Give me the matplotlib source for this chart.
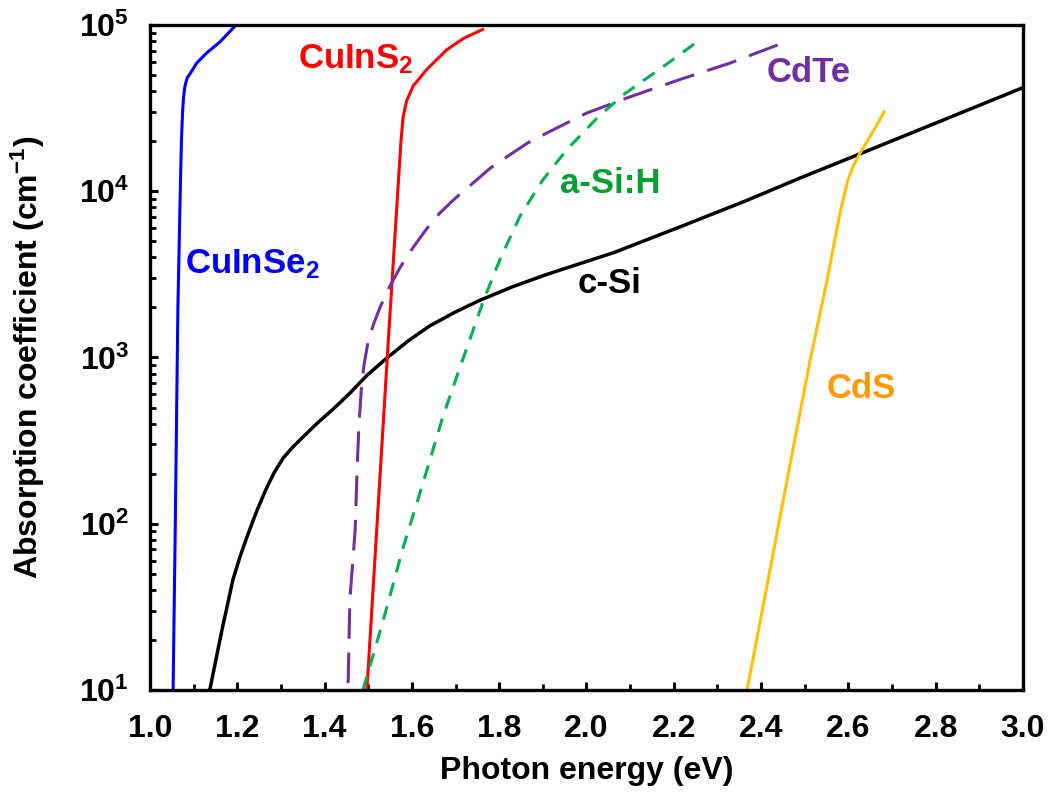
import matplotlib
matplotlib.use("Agg")
import matplotlib.pyplot as plt
from matplotlib.ticker import FixedLocator, LogLocator, NullFormatter, MultipleLocator

plt.rcParams["font.family"] = ["Liberation Sans", "DejaVu Sans"]
plt.rcParams["font.weight"] = "bold"
plt.rcParams["mathtext.fontset"] = "custom"
plt.rcParams["mathtext.rm"] = "Liberation Sans:bold"
plt.rcParams["mathtext.bf"] = "Liberation Sans:bold"
plt.rcParams["mathtext.it"] = "Liberation Sans:bold"

# photon energy (eV) / absorption coefficient (cm^-1), read per material
cuinse2_e = [1.053, 1.058, 1.064, 1.069, 1.072, 1.075, 1.077, 1.080, 1.085,
             1.092, 1.107, 1.130, 1.160, 1.197]
cuinse2_a = [1e1, 1e2, 2.0e3, 8.9e3, 2.0e4, 3.1e4, 3.7e4, 4.27e4, 4.8e4,
             5.1e4, 5.9e4, 6.8e4, 7.9e4, 1e5]

cuins2_e = [1.497, 1.546, 1.575, 1.580, 1.588, 1.603, 1.634, 1.680, 1.718,
            1.762]
cuins2_a = [1e1, 1.26e3, 2.0e4, 2.8e4, 3.5e4, 4.3e4, 5.4e4, 7.1e4, 8.3e4,
            9.4e4]

cdte_e = [1.454, 1.458, 1.470, 1.475, 1.479, 1.484, 1.490, 1.500, 1.512,
          1.527, 1.550, 1.575, 1.603, 1.633, 1.664, 1.700, 1.740, 1.780,
          1.825, 1.865, 1.909, 2.000, 2.100, 2.214, 2.329, 2.450]
cdte_a = [1.1e1, 3.5e1, 9.1e1, 2.3e2, 4.0e2, 6.3e2, 8.9e2, 1.26e3, 1.58e3,
          2.0e3, 2.7e3, 3.55e3, 4.6e3, 5.9e3, 7.4e3, 9.1e3, 1.12e4, 1.38e4,
          1.66e4, 1.95e4, 2.24e4, 2.95e4, 3.7e4, 4.7e4, 5.9e4, 7.8e4]

asih_e = [1.488, 1.534, 1.580, 1.625, 1.671, 1.710, 1.740, 1.764, 1.802,
          1.848, 1.900, 1.955, 2.024, 2.084, 2.175, 2.253]
asih_a = [1e1, 2.6e1, 7.2e1, 1.74e2, 4.4e2, 8.7e2, 1.45e3, 2.2e3, 3.9e3,
          7.1e3, 1.17e4, 1.78e4, 2.75e4, 3.8e4, 5.6e4, 7.9e4]

csi_e = [1.137, 1.165, 1.190, 1.206, 1.222, 1.245, 1.268, 1.285, 1.305,
         1.325, 1.344, 1.382, 1.420, 1.458, 1.497, 1.540, 1.590, 1.641,
         1.700, 1.756, 1.830, 1.909, 2.062, 2.214, 2.367, 2.489, 2.622, 3.000]
csi_a = [1e1, 2.3e1, 4.6e1, 6.3e1, 8.3e1, 1.2e2, 1.66e2, 2.04e2, 2.48e2,
         2.85e2, 3.2e2, 4.0e2, 4.9e2, 6.1e2, 7.8e2, 9.8e2, 1.25e3, 1.55e3,
         1.88e3, 2.21e3, 2.66e3, 3.16e3, 4.27e3, 6.1e3, 8.8e3, 1.2e4, 1.66e4,
         4.2e4]

cds_e = [2.368, 2.420, 2.473, 2.512, 2.551, 2.581, 2.599, 2.613, 2.627,
         2.657, 2.682]
cds_a = [1e1, 5.2e1, 2.8e2, 9.5e2, 2.9e3, 7.4e3, 1.17e4, 1.45e4, 1.7e4,
         2.3e4, 3.0e4]

x_ticks = [1.0, 1.2, 1.4, 1.6, 1.8, 2.0, 2.2, 2.4, 2.6, 2.8, 3.0]
y_ticks = [1e1, 1e2, 1e3, 1e4, 1e5]
y_tick_labels = [r"$10^{1}$", r"$10^{2}$", r"$10^{3}$", r"$10^{4}$", r"$10^{5}$"]

fig = plt.figure(figsize=(10.48, 7.94), dpi=100)
ax = fig.add_axes([0.1431, 0.131, 0.8330, 0.8375])

lw = 2.2
ax.plot(csi_e, csi_a, color="black", lw=2.5)
ax.plot(cuinse2_e, cuinse2_a, color="#0000FF", lw=lw)
ax.plot(cuins2_e, cuins2_a, color="#FF0000", lw=lw)
ax.plot(cdte_e, cdte_a, color="#7030A0", lw=lw, dashes=(10, 4.5))
ax.plot(asih_e, asih_a, color="#00B050", lw=lw, dashes=(4.5, 3.5))
ax.plot(cds_e, cds_a, color="#FFC000", lw=lw)

fs = 25
ax.text(1.080, 3.2e3, r"CuInSe$_{2}$", color="#0000FF", fontsize=fs, va="baseline")
ax.text(1.339, 5.5e4, r"CuInS$_{2}$", color="#FF0000", fontsize=fs, va="baseline")
ax.text(2.413, 4.54e4, "CdTe", color="#7030A0", fontsize=fs, va="baseline")
ax.text(1.939, 9.7e3, "a-Si:H", color="#00A030", fontsize=fs, va="baseline")
ax.text(1.980, 2.43e3, "c-Si", color="black", fontsize=fs, va="baseline")
ax.text(2.550, 5.74e2, "CdS", color="#FF9900", fontsize=fs, va="baseline")

ax.set_yscale("log")
ax.set_xlim(1.0, 3.0)
ax.set_ylim(1e1, 1e5)
ax.xaxis.set_major_locator(FixedLocator(x_ticks))
ax.xaxis.set_minor_locator(MultipleLocator(0.1))
ax.set_xticklabels([f"{t:.1f}" for t in x_ticks])
ax.yaxis.set_major_locator(FixedLocator(y_ticks))
ax.set_yticklabels(y_tick_labels)
ax.yaxis.set_minor_locator(LogLocator(base=10, subs=range(2, 10)))
ax.yaxis.set_minor_formatter(NullFormatter())

ax.tick_params(which="major", direction="in", length=6, width=2.2, labelsize=23)
ax.tick_params(which="minor", direction="in", length=4, width=2.0)
ax.tick_params(axis="x", which="major", pad=17)
ax.tick_params(axis="y", which="major", pad=15)
for sp in ax.spines.values():
    sp.set_linewidth(2.4)

ax.set_xlabel("Photon energy (eV)", fontsize=23, fontweight="bold")
ax.set_ylabel(r"Absorption coefficient (cm$^{-1}$)", fontsize=23,
              fontweight="bold")
ax.xaxis.set_label_coords(0.5, -0.10)
ax.yaxis.set_label_coords(-0.118, 0.5)

fig.savefig("out.png", dpi=100)
